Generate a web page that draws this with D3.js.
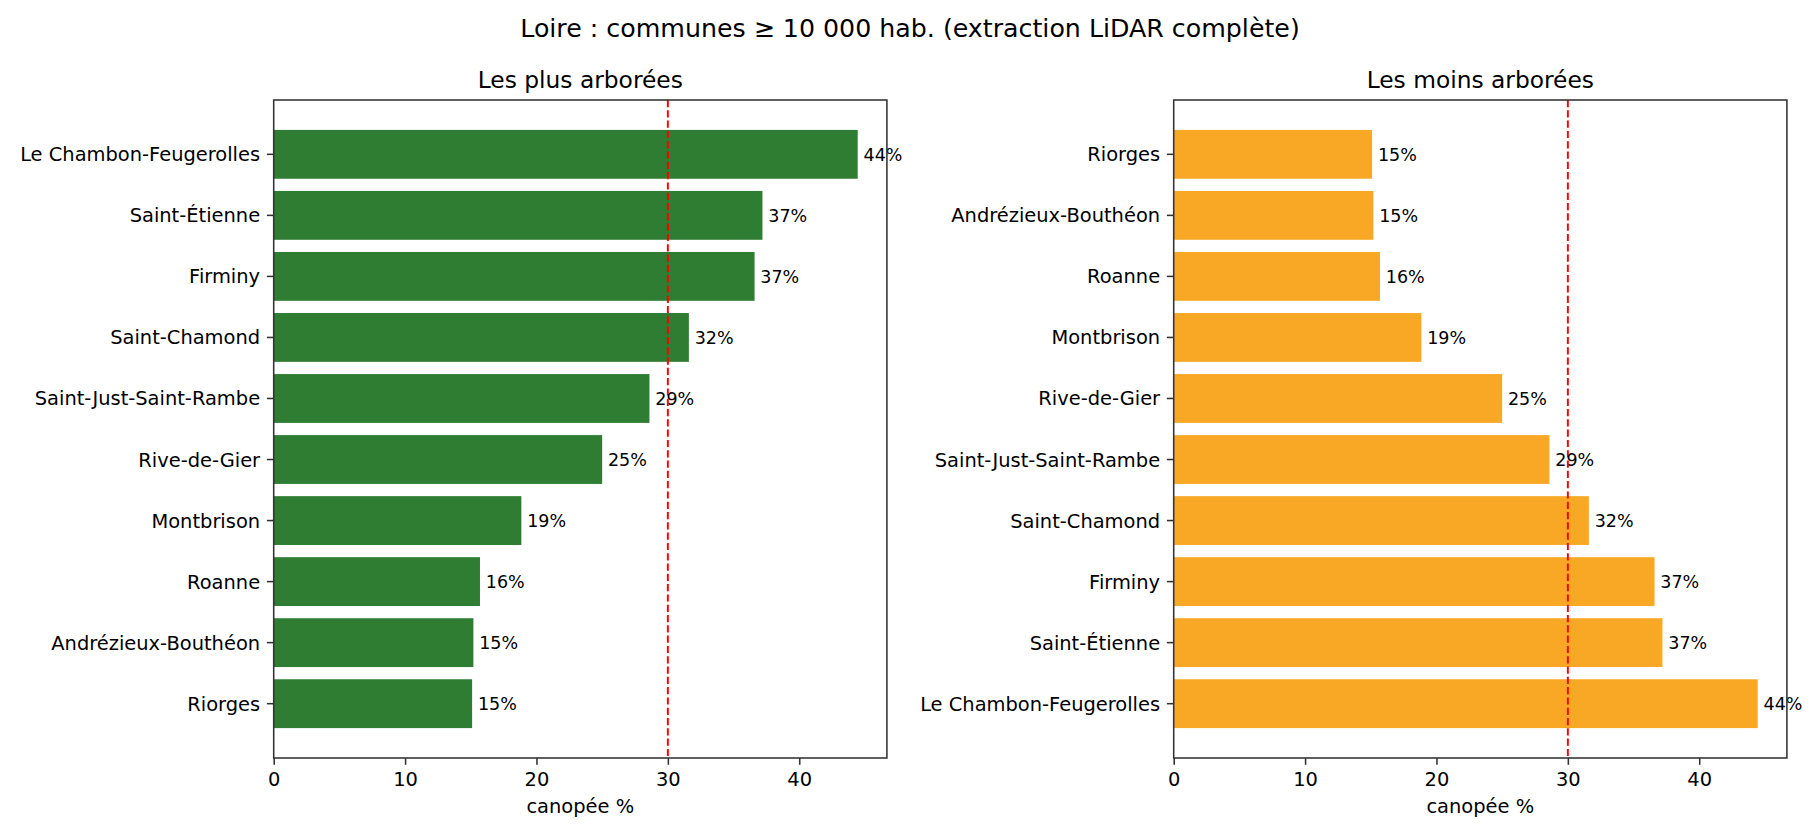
<!DOCTYPE html>
<html>
<head>
<meta charset="utf-8">
<style>
    body { margin: 0; background: #fff; }
    svg text { font-family: "DejaVu Sans", sans-serif; fill: #000; }
    .axis .domain { display: none; }
</style>
</head>
<body>
<svg width="1820" height="840"></svg>
<script src="https://cdn.jsdelivr.net/npm/d3@7/dist/d3.min.js"></script>
<script>
    // données (ordre : plus arborée -> moins arborée)
    var communes = ["Le Chambon-Feugerolles", "Saint-Étienne", "Firminy", "Saint-Chamond",
        "Saint-Just-Saint-Rambe", "Rive-de-Gier", "Montbrison", "Roanne",
        "Andrézieux-Bouthéon", "Riorges"];
    var canopee = [44.45, 37.2, 36.6, 31.6, 28.6, 25.0, 18.85, 15.7, 15.2, 15.1];
    var xTicks = [0, 10, 20, 30, 40];
    var seuil = 30;

    var svg = d3.select("svg");
    var plotTop = 100, plotBottom = 758, panelW = 613.2;
    var fontTick = 19.44, fontLabel = 17.5, fontTitle = 23.33, fontSup = 25.28;

    svg.append("text")
        .attr("x", 910).attr("y", 37)
        .attr("text-anchor", "middle")
        .style("font-size", fontSup + "px")
        .text("Loire : communes ≥ 10 000 hab. (extraction LiDAR complète)");

    var rows = communes.map(function (c, i) {
        return { name: c, value: canopee[i] };
    });

    function panel(left, title, data, color) {
        var g = svg.append("g").attr("transform", "translate(" + left + ",0)");

        var x = d3.scaleLinear()
            .domain([0, d3.max(data, function (d) { return d.value; }) * 1.05])
            .range([0, panelW]);

        var y = d3.scaleBand()
            .domain(data.map(function (d) { return d.name; }))
            .range([plotTop, plotBottom])
            .paddingInner(0.2)
            .paddingOuter(0.49);

        g.selectAll("rect.bar")
            .data(data)
            .enter().append("rect")
            .attr("class", "bar")
            .attr("x", x(0))
            .attr("y", function (d) { return y(d.name); })
            .attr("width", function (d) { return x(d.value) - x(0); })
            .attr("height", y.bandwidth())
            .attr("fill", color);

        // ligne de seuil
        g.append("line")
            .attr("x1", x(seuil)).attr("x2", x(seuil))
            .attr("y1", plotTop).attr("y2", plotBottom)
            .attr("stroke", "red")
            .attr("stroke-width", 1.94)
            .attr("stroke-dasharray", "7.2,3.1");

        // étiquettes des barres
        g.selectAll("text.val")
            .data(data)
            .enter().append("text")
            .attr("class", "val")
            .attr("x", function (d) { return x(d.value) + 5.8; })
            .attr("y", function (d) { return y(d.name) + y.bandwidth() / 2 + 6.3; })
            .style("font-size", fontLabel + "px")
            .text(function (d) { return d3.format(".0f")(d.value) + "%"; });

        // axe x
        var xAxis = g.append("g")
            .attr("class", "axis")
            .attr("transform", "translate(0," + plotBottom + ")")
            .call(d3.axisBottom(x).tickValues(xTicks).tickSize(6.8).tickPadding(6.8).tickFormat(d3.format("d")));
        xAxis.selectAll(".tick line").attr("stroke", "#333").attr("stroke-width", 1.56);
        xAxis.selectAll(".tick text")
            .attr("dy", null).attr("y", 28)
            .style("font-size", fontTick + "px").style("font-family", "DejaVu Sans");

        // axe y
        var yAxis = g.append("g")
            .attr("class", "axis")
            .call(d3.axisLeft(y).tickSize(6.8).tickPadding(6.8));
        yAxis.selectAll(".tick line").attr("stroke", "#333").attr("stroke-width", 1.56);
        yAxis.selectAll(".tick text")
            .attr("dy", null).attr("y", 7)
            .style("font-size", fontTick + "px").style("font-family", "DejaVu Sans");

        // cadre
        g.append("rect")
            .attr("x", 0).attr("y", plotTop)
            .attr("width", panelW).attr("height", plotBottom - plotTop)
            .attr("fill", "none")
            .attr("stroke", "#333")
            .attr("stroke-width", 1.56);

        g.append("text")
            .attr("x", panelW / 2).attr("y", plotTop - 11.7)
            .attr("text-anchor", "middle")
            .style("font-size", fontTitle + "px")
            .text(title);

        g.append("text")
            .attr("x", panelW / 2).attr("y", 813.3)
            .attr("text-anchor", "middle")
            .style("font-size", fontTick + "px")
            .text("canopée %");
    }

    panel(273.7, "Les plus arborées", rows, "#2e7d32");
    panel(1173.7, "Les moins arborées", rows.slice().reverse(), "#f9a825");
</script>
</body>
</html>
